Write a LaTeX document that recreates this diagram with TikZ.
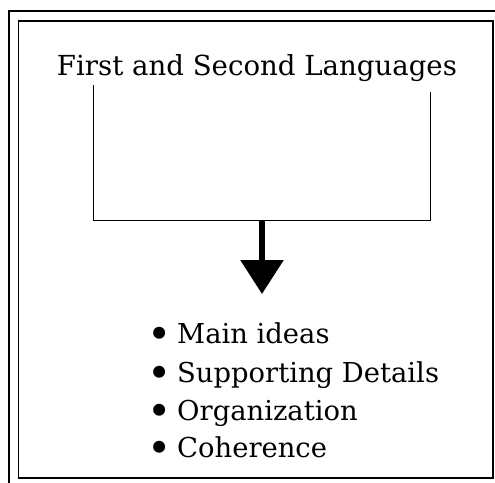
\documentclass[tikz,border=0pt]{standalone}
\usepackage{fontspec}
\setmainfont{DejaVu Serif}
\usetikzlibrary{arrows.meta}
\newcommand{\bigbul}{\makebox[25pt][l]{\hspace{-5pt}\raisebox{-5pt}{\scalebox{1.5}{•}}}}
\tikzset{
  frame/.style={line width=1.3pt},
  bracket/.style={line width=1pt},
  bigarrow/.style={line width=6pt,-{Triangle[width=42pt,length=34pt]}},
  titletext/.style={inner sep=0pt,anchor=base,font=\fontsize{27.6pt}{32pt}\selectfont},
  itemtext/.style={inner sep=0pt,anchor=base west,font=\fontsize{27.4pt}{32pt}\selectfont}
}
\begin{document}
\begin{tikzpicture}[x=1pt,y=1pt]
\useasboundingbox (0,0) rectangle (495,-482);
\fill[white] (0,0) rectangle (495,-482);
\clip (0,0) rectangle (495,-482);
% double frame
\draw[frame] (9,-11) rectangle (505,-495);
\draw[frame] (18.5,-21) rectangle (493,-478);
% title
\node[titletext] (title) at (257,-75) {First and Second Languages};
% bracket
\coordinate (lt) at (93,-85);
\coordinate (lb) at (93,-220);
\coordinate (rt) at (430,-92);
\coordinate (rb) at (430,-220);
\coordinate (mid) at (262,-220);
\coordinate (tip) at (262,-294);
\draw[bracket] (lt) -- (lb) -- (rb) -- (rt);
\draw[bigarrow] (mid) -- (tip);
% list
\node[itemtext] (i1) at (152,-343) {\bigbul Main ideas};
\node[itemtext] (i2) at (152,-382) {\bigbul Supporting Details};
\node[itemtext] (i3) at (152,-420) {\bigbul Organization};
\node[itemtext] (i4) at (152,-457) {\bigbul Coherence};
\end{tikzpicture}
\end{document}
